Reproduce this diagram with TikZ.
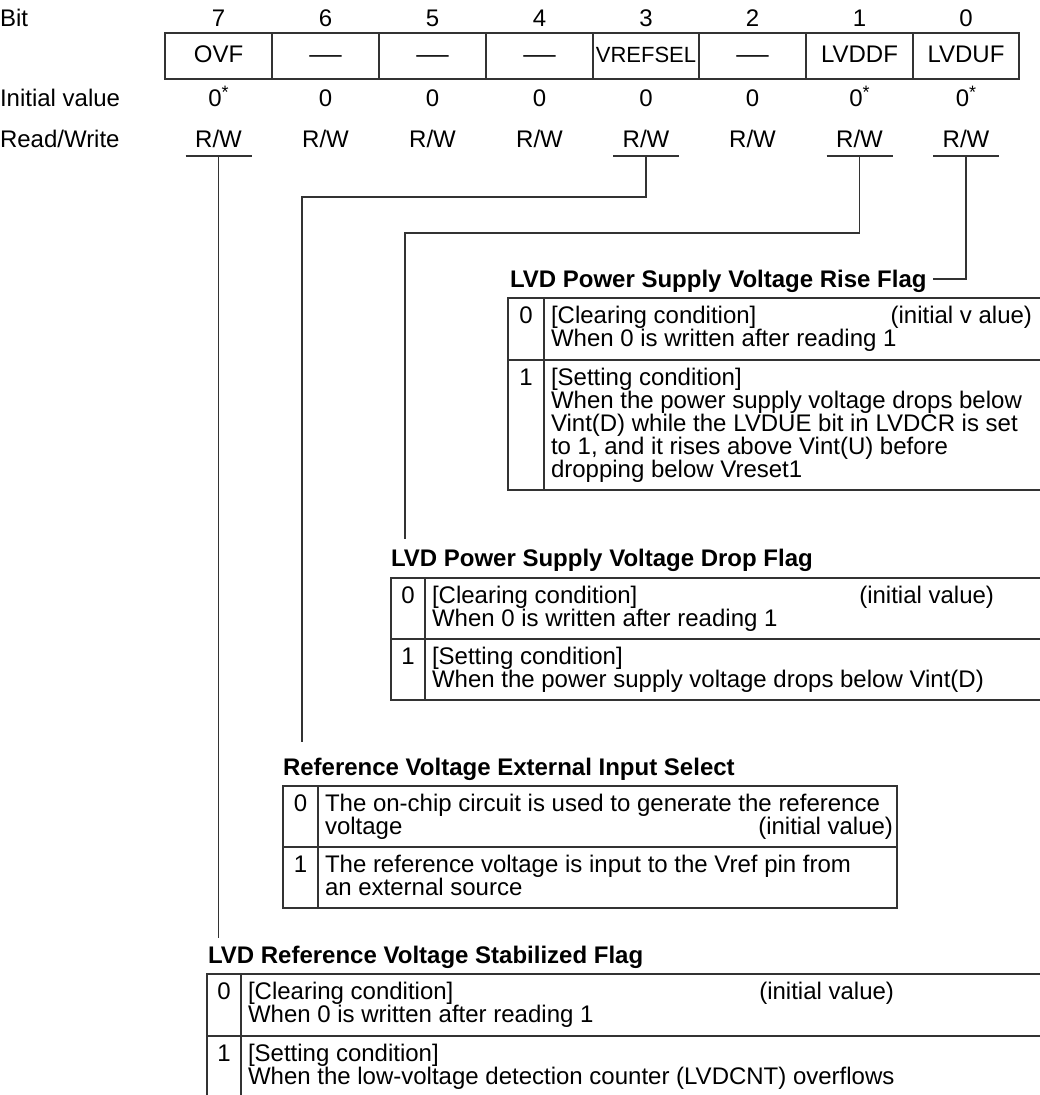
\documentclass[tikz,border=0pt]{standalone}
\usepackage{fontspec}
\setmainfont{Liberation Sans}
\newcommand\dgfont{\fontsize{24}{28}\selectfont}
\newcommand\dghead{\fontsize{24}{28}\selectfont\bfseries}
\newcommand\dgast{0\raisebox{8pt}{\fontsize{18}{18}\selectfont *}}
\newcommand\dgdash{\scalebox{1.35}[1]{—}}
\begin{document}
\begin{tikzpicture}[x=1pt,y=-1pt,
  every node/.style={inner sep=0pt, outer sep=0pt, font=\dgfont},
  ln/.style={line width=1.3pt, draw=black!80},
  tl/.style={anchor=base west},
  tc/.style={anchor=base},
  tr/.style={anchor=base east},
  hd/.style={anchor=base west, font=\dghead}]
\useasboundingbox (0,0) rectangle (1040,1095);
\clip (0,0) rectangle (1040,1095);

% ---------- register header ----------
\node[tl] (lbit) at (0,26) {Bit};
\node[tl] (linit) at (0,106) {Initial value};
\node[tl] (lrw) at (0,147) {Read/Write};

\draw[ln] (165,33) rectangle (1019,79);
\foreach \x in {272,379,486,593,699,806,913} \draw[ln] (\x,33) -- (\x,79);

% bit numbers
\node[tc] (n7) at (218.5,26) {7};
\node[tc] (n6) at (325.5,26) {6};
\node[tc] (n5) at (432.5,26) {5};
\node[tc] (n4) at (539.5,26) {4};
\node[tc] (n3) at (646,26) {3};
\node[tc] (n2) at (752.5,26) {2};
\node[tc] (n1) at (859.5,26) {1};
\node[tc] (n0) at (966,26) {0};

% bit names
\node[tc] (f7) at (218.5,62) {OVF};
\node[tc] (f6) at (325.5,62) {\dgdash};
\node[tc] (f5) at (432.5,62) {\dgdash};
\node[tc] (f4) at (539.5,62) {\dgdash};
\node[tc] (f3) at (646,62) {\fontsize{22}{25}\selectfont VREFSEL};
\node[tc] (f2) at (752.5,62) {\dgdash};
\node[tc] (f1) at (859.5,62) {LVDDF};
\node[tc] (f0) at (966,62) {LVDUF};

% initial values
\node[tc] (i7) at (218.5,106) {\dgast};
\node[tc] (i6) at (325.5,106) {0};
\node[tc] (i5) at (432.5,106) {0};
\node[tc] (i4) at (539.5,106) {0};
\node[tc] (i3) at (646,106) {0};
\node[tc] (i2) at (752.5,106) {0};
\node[tc] (i1) at (859.5,106) {\dgast};
\node[tc] (i0) at (966,106) {\dgast};

% read/write
\node[tc] (r7) at (218.5,147) {R/W};
\node[tc] (r6) at (325.5,147) {R/W};
\node[tc] (r5) at (432.5,147) {R/W};
\node[tc] (r4) at (539.5,147) {R/W};
\node[tc] (r3) at (646,147) {R/W};
\node[tc] (r2) at (752.5,147) {R/W};
\node[tc] (r1) at (859.5,147) {R/W};
\node[tc] (r0) at (966,147) {R/W};

% underlines and connector start points
\coordinate (u7) at (218.5,156);
\coordinate (u3) at (646,156);
\coordinate (u1) at (859.5,156);
\coordinate (u0) at (966,156);
\foreach \c in {u7,u3,u1,u0} \draw[ln] ([xshift=-33pt]\c) -- ([xshift=33pt]\c);

% ---------- LVDUF : rise flag ----------
\node[hd] (tR) at (510,287) {LVD Power Supply Voltage Rise Flag};
\draw[ln] (u0) |- ([xshift=6pt,yshift=8pt]tR.base east);
\draw[ln] (508,298) rectangle (1046,490);
\draw[ln] (544,298) -- (544,490);
\draw[ln] (508,360) -- (1046,360);
\node[tc] (R0n) at (526,323) {0};
\node[tl] (R0a) at (551,323) {[Clearing condition]};
\node[tr] (R0i) at (1032,323) {(initial v alue)};
\node[tl] (R0b) at (551,346) {When 0 is written after reading 1};
\node[tc] (R1n) at (526,385) {1};
\node[tl] (R1a) at (551,385) {[Setting condition]};
\node[tl] (R1b) at (551,408) {When the power supply voltage drops below};
\node[tl] (R1c) at (551,431) {Vint(D) while the LVDUE bit in LVDCR is set};
\node[tl] (R1d) at (551,454) {to 1, and it rises above Vint(U) before};
\node[tl] (R1e) at (551,477) {dropping below Vreset1};

% ---------- LVDDF : drop flag ----------
\coordinate (e1) at (405,539);
\draw[ln] (u1) -- ++(0,77) -| (e1);
\node[hd] (tD) at (391,566) {LVD Power Supply Voltage Drop Flag};
\draw[ln] (391,578) rectangle (1046,700);
\draw[ln] (425,578) -- (425,700);
\draw[ln] (391,639) -- (1046,639);
\node[tc] (D0n) at (408,603) {0};
\node[tl] (D0a) at (432,603) {[Clearing condition]};
\node[tr] (D0i) at (994,603) {(initial value)};
\node[tl] (D0b) at (432,626) {When 0 is written after reading 1};
\node[tc] (D1n) at (408,664) {1};
\node[tl] (D1a) at (432,664) {[Setting condition]};
\node[tl] (D1b) at (432,687) {When the power supply voltage drops below Vint(D)};

% ---------- VREFSEL ----------
\coordinate (e3) at (302,742);
\draw[ln] (u3) -- ++(0,41) -| (e3);
\node[hd] (tV) at (283,775) {Reference Voltage External Input Select};
\draw[ln] (283,786) rectangle (897,908);
\draw[ln] (318,786) -- (318,908);
\draw[ln] (283,847) -- (897,847);
\node[tc] (V0n) at (300.5,811) {0};
\node[tl] (V0a) at (325,811) {The on-chip circuit is used to generate the reference};
\node[tl] (V0b) at (325,834) {voltage};
\node[tr] (V0i) at (893,834) {(initial value)};
\node[tc] (V1n) at (300.5,872) {1};
\node[tl] (V1a) at (325,872) {The reference voltage is input to the Vref pin from};
\node[tl] (V1b) at (325,895) {an external source};

% ---------- OVF : stabilized flag ----------
\coordinate (e7) at (218.5,938);
\draw[ln] (u7) -- (e7);
\node[hd] (tS) at (208,963) {LVD Reference Voltage Stabilized Flag};
\draw[ln] (207,974) rectangle (1046,1098);
\draw[ln] (241,974) -- (241,1098);
\draw[ln] (207,1036) -- (1046,1036);
\node[tc] (S0n) at (224,999) {0};
\node[tl] (S0a) at (248,999) {[Clearing condition]};
\node[tr] (S0i) at (894,999) {(initial value)};
\node[tl] (S0b) at (248,1022) {When 0 is written after reading 1};
\node[tc] (S1n) at (224,1061) {1};
\node[tl] (S1a) at (248,1061) {[Setting condition]};
\node[tl] (S1b) at (248,1084) {When the low-voltage detection counter (LVDCNT) overflows};
\end{tikzpicture}
\end{document}
